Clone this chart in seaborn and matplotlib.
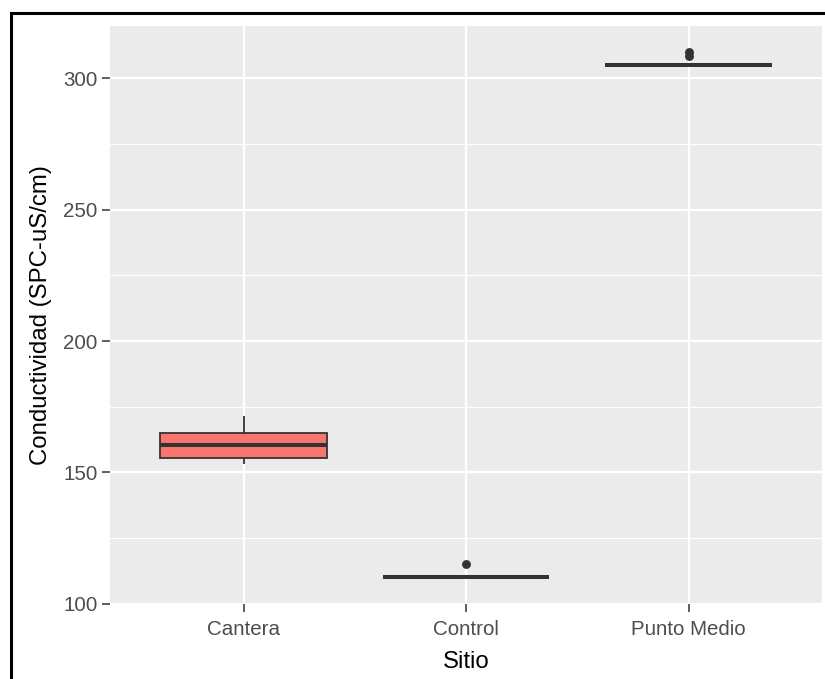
import pandas as pd
import numpy as np
import matplotlib
matplotlib.use("Agg")
import matplotlib.pyplot as plt
import seaborn as sns
from matplotlib.ticker import MultipleLocator
from matplotlib.patches import Rectangle

# values
cantera = [153.3, 154.5, 155.3, 158.0, 160.4, 162.5, 164.9, 167.0, 171.5]
control = [110.0, 110.0, 110.0, 110.0, 110.0, 110.0, 110.0, 110.0, 115.0]
punto_medio = [305.0, 305.0, 305.0, 305.0, 305.0, 305.0, 305.0, 308.4, 309.9]

sitios = ["Cantera", "Control", "Punto Medio"]
colores = ["#F8766D", "#00BA38", "#619CFF"]

df = pd.DataFrame({
    "Sitio": ["Cantera"] * len(cantera) + ["Control"] * len(control)
             + ["Punto Medio"] * len(punto_medio),
    "Conductividad": cantera + control + punto_medio,
})

sns.set_style("darkgrid", {"axes.facecolor": "#EBEBEB", "grid.color": "white",
                           "xtick.bottom": True, "ytick.left": True})
plt.rcParams["font.family"] = ["Liberation Sans", "DejaVu Sans"]

fig = plt.figure(figsize=(8.25, 6.79), dpi=100)
ax = fig.add_axes([110 / 825, 1 - 604 / 679, 712 / 825, 578 / 679])

sns.boxplot(
    data=df, x="Sitio", y="Conductividad", hue="Sitio",
    order=sitios, hue_order=sitios, palette=colores, saturation=1,
    width=0.75, linecolor="#333333", linewidth=1.3,
    showcaps=False, legend=False, ax=ax,
    medianprops=dict(linewidth=2.9, color="#333333"),
    flierprops=dict(marker="o", markersize=6.4, markerfacecolor="#333333",
                    markeredgecolor="#333333", markeredgewidth=0),
)

vals = df["Conductividad"]
rng = vals.max() - vals.min()
ax.set_ylim(min(vals.min() - 0.05 * rng, 99.9), vals.max() + 0.05 * rng)
ax.set_xlim(-0.6, 2.6)

ax.yaxis.set_major_locator(MultipleLocator(50))
ax.yaxis.set_minor_locator(MultipleLocator(25))
ax.grid(which="major", color="white", linewidth=1.6)
ax.grid(which="minor", axis="y", color="white", linewidth=0.8)
ax.set_axisbelow(True)
for s in ax.spines.values():
    s.set_visible(False)

ax.tick_params(axis="both", which="major", bottom=True, left=True,
               length=5.5, width=1.1, color="#333333",
               labelsize=14.8, labelcolor="#4D4D4D", pad=3.5)
ax.tick_params(axis="x", which="major", pad=6.3)
ax.tick_params(axis="y", which="minor", length=0, left=False)

ax.set_xlabel("Sitio", fontsize=17.3, color="black")
ax.set_ylabel("Conductividad (SPC-uS/cm)", fontsize=17.3, color="black")
ax.xaxis.set_label_coords(0.5, -0.081)
ax.yaxis.set_label_coords(-0.0815, 0.5)

# black frame around the screenshot
fig.add_artist(Rectangle((10.7 / 825, -0.1), 1.2, 1.1 - 13.3 / 679,
                         transform=fig.transFigure, fill=False,
                         edgecolor="black", linewidth=2.2))

fig.savefig("out.png", dpi=100)
